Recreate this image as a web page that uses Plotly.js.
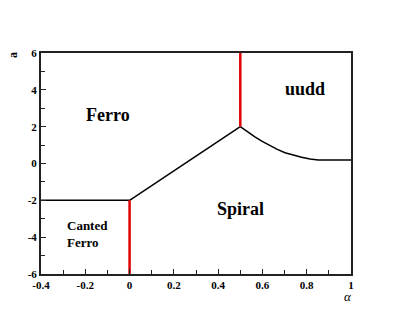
<!DOCTYPE html>
<html><head><meta charset="utf-8">
<script src="https://cdn.plot.ly/plotly-3.0.1.min.js"></script>
<style>html,body{margin:0;padding:0;background:#fff}#c{width:395px;height:315px}</style>
</head><body><div id="c"></div>
<script>
// Phase boundaries
const cantedX = [-0.4, 0];
const cantedY = [-2, -2];
const ferroSpiralX = [0, 0.5];
const ferroSpiralY = [-2, 2];
const uuddX = [0.5, 0.533, 0.566, 0.597, 0.627, 0.665, 0.702, 0.74, 0.777, 0.815, 0.852, 1.0];
const uuddY = [2, 1.71, 1.45, 1.21, 1.0, 0.78, 0.585, 0.45, 0.335, 0.25, 0.19, 0.19];
const redLowX = [0, 0];
const redLowY = [-6, -2];
const redHighX = [0.5, 0.5];
const redHighY = [2, 6];
// Region labels
const regionNames = ['Ferro', 'uudd', 'Spiral', 'Canted<br>Ferro'];
const regionX = [-0.097, 0.792, 0.499, -0.29];
const regionY = [2.64, 4.05, -2.47, -3.85];
// Tick labels
const xTickVals = [-0.4, -0.2, 0, 0.2, 0.4, 0.6, 0.8, 1];
const xTickText = ['-0.4', '-0.2', '0', '0.2', '0.4', '0.6', '0.8', '1'];
const yTickVals = [-6, -4, -2, 0, 2, 4, 6];
const yTickText = ['-6', '-4', '-2', '0', '2', '4', '6'];

const serif = 'Liberation Serif';
const blk = (x, y) => ({x, y, mode: 'lines', line: {color: '#000', width: 1.5}, hoverinfo: 'skip'});
const red = (x, y) => ({x, y, mode: 'lines', line: {color: '#e00000', width: 2.5}, hoverinfo: 'skip'});
const traces = [
  blk(cantedX, cantedY), blk(ferroSpiralX, ferroSpiralY), blk(uuddX, uuddY),
  red(redLowX, redLowY), red(redHighX, redHighY)
];
const ann = regionNames.map((t, i) => ({
  x: regionX[i], y: regionY[i], xref: 'x', yref: 'y', text: '<b>' + t + '</b>', showarrow: false,
  xanchor: i === 3 ? 'left' : 'center', yanchor: 'middle', align: 'left',
  font: {family: serif, size: i === 3 ? 13 : 18, color: '#000'}
}));
ann.push({x: -0.0903, y: 0.991, xref: 'paper', yref: 'paper', text: '<b>a</b>', textangle: -90,
  xanchor: 'center', yanchor: 'middle',
  showarrow: false, font: {family: serif, size: 12, color: '#000'}});
ann.push({x: 0.99, y: -0.103, xref: 'paper', yref: 'paper', text: '<i>α</i>',
  xanchor: 'center', yanchor: 'middle',
  showarrow: false, font: {family: serif, size: 13, color: '#000'}});

const bold = a => a.map(s => '<b>' + s + '</b>');
const axisCommon = {
  showgrid: false, zeroline: false, showline: true, mirror: true,
  linecolor: '#222', linewidth: 2, ticks: 'inside', ticklen: 5, tickwidth: 1, tickcolor: '#222',
  tickfont: {family: serif, size: 11, color: '#000'}
};
const layout = {
  width: 395, height: 315, margin: {l: 41, r: 44, t: 53, b: 41},
  font: {family: serif},
  paper_bgcolor: '#fff', plot_bgcolor: '#fff', showlegend: false,
  xaxis: Object.assign({}, axisCommon, {range: [-0.4, 1], tickvals: xTickVals, ticktext: bold(xTickText),
    minor: {tickvals: [-0.3, -0.1, 0.1, 0.3, 0.5, 0.7, 0.9], ticks: 'inside', ticklen: 4, tickcolor: '#222'}}),
  yaxis: Object.assign({}, axisCommon, {range: [-6, 6], tickvals: yTickVals, ticktext: bold(yTickText),
    minor: {tickvals: [-5, -3, -1, 1, 3, 5], ticks: 'inside', ticklen: 4, tickcolor: '#222'}}),
  annotations: ann
};
Plotly.newPlot('c', traces, layout, {staticPlot: true, displayModeBar: false});
</script></body></html>
